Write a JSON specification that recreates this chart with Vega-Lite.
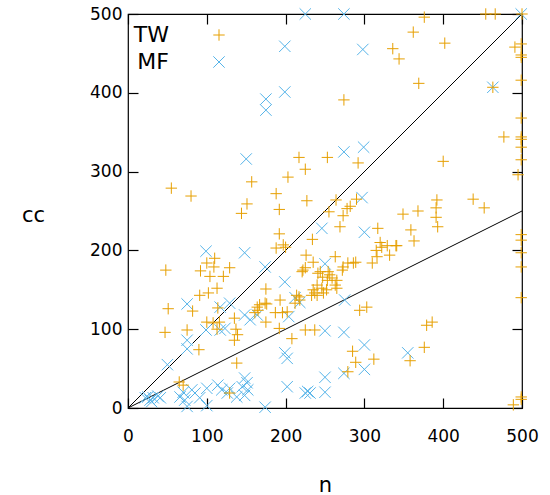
{
  "$schema": "https://vega.github.io/schema/vega-lite/v6.json",
  "width": 394,
  "height": 394,
  "autosize": {"type": "none"},
  "padding": {"left": 128, "top": 14, "right": 28, "bottom": 87},
  "config": {
    "view": {"stroke": "black", "strokeWidth": 1.2},
    "font": "DejaVu Sans",
    "axis": {
      "grid": false,
      "domain": false,
      "tickColor": "black",
      "tickSize": -10,
      "tickWidth": 1.2,
      "labelFontSize": 17,
      "labelColor": "black",
      "labelFlush": false,
      "labelOverlap": false,
      "titleFontSize": 21,
      "titleFontWeight": "normal",
      "titleColor": "black"
    }
  },
  "layer": [
    {
      "data": {"values": [
        {"n": 0, "cc": 0, "line": "a"}, {"n": 500, "cc": 500, "line": "a"},
        {"n": 0, "cc": 0, "line": "b"}, {"n": 500, "cc": 250, "line": "b"}
      ]},
      "mark": {"type": "line", "color": "black", "strokeWidth": 1},
      "encoding": {
        "x": {"field": "n", "type": "quantitative", "scale": {"domain": [0, 500], "nice": false},
              "axis": {"orient": "top", "labels": false, "title": null, "values": [0, 100, 200, 300, 400, 500]}},
        "y": {"field": "cc", "type": "quantitative", "scale": {"domain": [0, 500], "nice": false},
              "axis": {"orient": "right", "labels": false, "title": null, "values": [0, 100, 200, 300, 400, 500]}},
        "detail": {"field": "line"}
      }
    },
    {
      "data": {"values": [
        {"n":225,"cc":500,"s":"MF"},{"n":274,"cc":500,"s":"MF"},{"n":499,"cc":500,"s":"MF"},{"n":199,"cc":459,"s":"MF"},{"n":298,"cc":455,"s":"MF"},{"n":199,"cc":401,"s":"MF"},{"n":175,"cc":392,"s":"MF"},{"n":175,"cc":378,"s":"MF"},{"n":463,"cc":407,"s":"MF"},{"n":150,"cc":316,"s":"MF"},{"n":274,"cc":325,"s":"MF"},{"n":299,"cc":331,"s":"MF"},{"n":99,"cc":199,"s":"MF"},{"n":148,"cc":197,"s":"MF"},{"n":297,"cc":267,"s":"MF"},{"n":246,"cc":228,"s":"MF"},{"n":300,"cc":223,"s":"MF"},{"n":174,"cc":179,"s":"MF"},{"n":250,"cc":183,"s":"MF"},{"n":199,"cc":160,"s":"MF"},{"n":212,"cc":140,"s":"MF"},{"n":218,"cc":134,"s":"MF"},{"n":204,"cc":116,"s":"MF"},{"n":275,"cc":137,"s":"MF"},{"n":164,"cc":118,"s":"MF"},{"n":148,"cc":118,"s":"MF"},{"n":155,"cc":112,"s":"MF"},{"n":75,"cc":132,"s":"MF"},{"n":117,"cc":128,"s":"MF"},{"n":129,"cc":133,"s":"MF"},{"n":99,"cc":99,"s":"MF"},{"n":117,"cc":99,"s":"MF"},{"n":123,"cc":101,"s":"MF"},{"n":75,"cc":86,"s":"MF"},{"n":75,"cc":75,"s":"MF"},{"n":50,"cc":55,"s":"MF"},{"n":300,"cc":80,"s":"MF"},{"n":250,"cc":98,"s":"MF"},{"n":274,"cc":96,"s":"MF"},{"n":199,"cc":70,"s":"MF"},{"n":202,"cc":63,"s":"MF"},{"n":300,"cc":49,"s":"MF"},{"n":274,"cc":44,"s":"MF"},{"n":250,"cc":39,"s":"MF"},{"n":355,"cc":70,"s":"MF"},{"n":202,"cc":27,"s":"MF"},{"n":225,"cc":19,"s":"MF"},{"n":231,"cc":19,"s":"MF"},{"n":228,"cc":21,"s":"MF"},{"n":250,"cc":20,"s":"MF"},{"n":174,"cc":1,"s":"MF"},{"n":25,"cc":14,"s":"MF"},{"n":32,"cc":13,"s":"MF"},{"n":38,"cc":15,"s":"MF"},{"n":28,"cc":10,"s":"MF"},{"n":41,"cc":13,"s":"MF"},{"n":22,"cc":13,"s":"MF"},{"n":30,"cc":8,"s":"MF"},{"n":66,"cc":14,"s":"MF"},{"n":72,"cc":10,"s":"MF"},{"n":70,"cc":20,"s":"MF"},{"n":81,"cc":23,"s":"MF"},{"n":85,"cc":19,"s":"MF"},{"n":91,"cc":13,"s":"MF"},{"n":100,"cc":25,"s":"MF"},{"n":100,"cc":3,"s":"MF"},{"n":114,"cc":29,"s":"MF"},{"n":119,"cc":23,"s":"MF"},{"n":126,"cc":19,"s":"MF"},{"n":129,"cc":25,"s":"MF"},{"n":138,"cc":14,"s":"MF"},{"n":145,"cc":27,"s":"MF"},{"n":148,"cc":38,"s":"MF"},{"n":151,"cc":32,"s":"MF"},{"n":152,"cc":23,"s":"MF"},{"n":148,"cc":16,"s":"MF"},{"n":75,"cc":2,"s":"MF"},
        {"n":376,"cc":496,"s":"TW"},{"n":454,"cc":500,"s":"TW"},{"n":466,"cc":500,"s":"TW"},{"n":500,"cc":500,"s":"TW"},{"n":362,"cc":477,"s":"TW"},{"n":402,"cc":463,"s":"TW"},{"n":336,"cc":456,"s":"TW"},{"n":344,"cc":443,"s":"TW"},{"n":491,"cc":458,"s":"TW"},{"n":499,"cc":462,"s":"TW"},{"n":499,"cc":448,"s":"TW"},{"n":499,"cc":445,"s":"TW"},{"n":369,"cc":412,"s":"TW"},{"n":499,"cc":416,"s":"TW"},{"n":463,"cc":407,"s":"TW"},{"n":499,"cc":368,"s":"TW"},{"n":477,"cc":344,"s":"TW"},{"n":499,"cc":344,"s":"TW"},{"n":499,"cc":341,"s":"TW"},{"n":499,"cc":331,"s":"TW"},{"n":274,"cc":391,"s":"TW"},{"n":400,"cc":313,"s":"TW"},{"n":495,"cc":296,"s":"TW"},{"n":499,"cc":315,"s":"TW"},{"n":438,"cc":265,"s":"TW"},{"n":452,"cc":254,"s":"TW"},{"n":392,"cc":264,"s":"TW"},{"n":391,"cc":254,"s":"TW"},{"n":368,"cc":250,"s":"TW"},{"n":349,"cc":246,"s":"TW"},{"n":391,"cc":242,"s":"TW"},{"n":393,"cc":230,"s":"TW"},{"n":359,"cc":226,"s":"TW"},{"n":363,"cc":212,"s":"TW"},{"n":341,"cc":206,"s":"TW"},{"n":329,"cc":206,"s":"TW"},{"n":322,"cc":204,"s":"TW"},{"n":332,"cc":194,"s":"TW"},{"n":499,"cc":220,"s":"TW"},{"n":499,"cc":213,"s":"TW"},{"n":499,"cc":197,"s":"TW"},{"n":499,"cc":179,"s":"TW"},{"n":499,"cc":140,"s":"TW"},{"n":499,"cc":14,"s":"TW"},{"n":499,"cc":11,"s":"TW"},{"n":489,"cc":4,"s":"TW"},{"n":386,"cc":109,"s":"TW"},{"n":379,"cc":105,"s":"TW"},{"n":376,"cc":77,"s":"TW"},{"n":358,"cc":60,"s":"TW"},{"n":157,"cc":287,"s":"TW"},{"n":55,"cc":279,"s":"TW"},{"n":80,"cc":269,"s":"TW"},{"n":151,"cc":259,"s":"TW"},{"n":144,"cc":247,"s":"TW"},{"n":110,"cc":190,"s":"TW"},{"n":100,"cc":184,"s":"TW"},{"n":109,"cc":179,"s":"TW"},{"n":129,"cc":178,"s":"TW"},{"n":48,"cc":175,"s":"TW"},{"n":92,"cc":174,"s":"TW"},{"n":104,"cc":167,"s":"TW"},{"n":121,"cc":167,"s":"TW"},{"n":217,"cc":318,"s":"TW"},{"n":253,"cc":318,"s":"TW"},{"n":225,"cc":303,"s":"TW"},{"n":292,"cc":311,"s":"TW"},{"n":203,"cc":293,"s":"TW"},{"n":188,"cc":272,"s":"TW"},{"n":227,"cc":263,"s":"TW"},{"n":192,"cc":252,"s":"TW"},{"n":264,"cc":264,"s":"TW"},{"n":290,"cc":265,"s":"TW"},{"n":282,"cc":256,"s":"TW"},{"n":278,"cc":253,"s":"TW"},{"n":255,"cc":249,"s":"TW"},{"n":273,"cc":244,"s":"TW"},{"n":269,"cc":230,"s":"TW"},{"n":317,"cc":228,"s":"TW"},{"n":192,"cc":221,"s":"TW"},{"n":234,"cc":214,"s":"TW"},{"n":188,"cc":203,"s":"TW"},{"n":197,"cc":207,"s":"TW"},{"n":200,"cc":204,"s":"TW"},{"n":320,"cc":210,"s":"TW"},{"n":315,"cc":200,"s":"TW"},{"n":316,"cc":192,"s":"TW"},{"n":340,"cc":206,"s":"TW"},{"n":310,"cc":184,"s":"TW"},{"n":226,"cc":194,"s":"TW"},{"n":235,"cc":185,"s":"TW"},{"n":263,"cc":192,"s":"TW"},{"n":222,"cc":175,"s":"TW"},{"n":225,"cc":178,"s":"TW"},{"n":279,"cc":184,"s":"TW"},{"n":286,"cc":184,"s":"TW"},{"n":289,"cc":185,"s":"TW"},{"n":273,"cc":179,"s":"TW"},{"n":272,"cc":175,"s":"TW"},{"n":241,"cc":171,"s":"TW"},{"n":256,"cc":169,"s":"TW"},{"n":254,"cc":173,"s":"TW"},{"n":259,"cc":165,"s":"TW"},{"n":265,"cc":162,"s":"TW"},{"n":253,"cc":162,"s":"TW"},{"n":247,"cc":166,"s":"TW"},{"n":240,"cc":156,"s":"TW"},{"n":246,"cc":152,"s":"TW"},{"n":235,"cc":150,"s":"TW"},{"n":252,"cc":150,"s":"TW"},{"n":237,"cc":146,"s":"TW"},{"n":248,"cc":146,"s":"TW"},{"n":263,"cc":156,"s":"TW"},{"n":265,"cc":152,"s":"TW"},{"n":233,"cc":143,"s":"TW"},{"n":240,"cc":143,"s":"TW"},{"n":214,"cc":143,"s":"TW"},{"n":218,"cc":137,"s":"TW"},{"n":212,"cc":133,"s":"TW"},{"n":294,"cc":124,"s":"TW"},{"n":303,"cc":128,"s":"TW"},{"n":221,"cc":173,"s":"TW"},{"n":244,"cc":173,"s":"TW"},{"n":175,"cc":151,"s":"TW"},{"n":217,"cc":141,"s":"TW"},{"n":193,"cc":137,"s":"TW"},{"n":174,"cc":133,"s":"TW"},{"n":164,"cc":128,"s":"TW"},{"n":167,"cc":131,"s":"TW"},{"n":176,"cc":132,"s":"TW"},{"n":165,"cc":124,"s":"TW"},{"n":161,"cc":121,"s":"TW"},{"n":187,"cc":121,"s":"TW"},{"n":196,"cc":121,"s":"TW"},{"n":202,"cc":122,"s":"TW"},{"n":175,"cc":109,"s":"TW"},{"n":192,"cc":101,"s":"TW"},{"n":208,"cc":88,"s":"TW"},{"n":225,"cc":99,"s":"TW"},{"n":237,"cc":99,"s":"TW"},{"n":285,"cc":72,"s":"TW"},{"n":289,"cc":58,"s":"TW"},{"n":312,"cc":62,"s":"TW"},{"n":279,"cc":46,"s":"TW"},{"n":113,"cc":152,"s":"TW"},{"n":102,"cc":146,"s":"TW"},{"n":91,"cc":143,"s":"TW"},{"n":51,"cc":126,"s":"TW"},{"n":82,"cc":123,"s":"TW"},{"n":114,"cc":127,"s":"TW"},{"n":135,"cc":114,"s":"TW"},{"n":100,"cc":109,"s":"TW"},{"n":108,"cc":108,"s":"TW"},{"n":116,"cc":109,"s":"TW"},{"n":113,"cc":100,"s":"TW"},{"n":137,"cc":100,"s":"TW"},{"n":75,"cc":99,"s":"TW"},{"n":47,"cc":96,"s":"TW"},{"n":139,"cc":93,"s":"TW"},{"n":135,"cc":86,"s":"TW"},{"n":90,"cc":74,"s":"TW"},{"n":138,"cc":57,"s":"TW"},{"n":65,"cc":33,"s":"TW"},{"n":70,"cc":29,"s":"TW"},{"n":129,"cc":19,"s":"TW"}
      ]},
      "mark": {"type": "point", "filled": false, "strokeWidth": 1, "size": 130, "opacity": 1},
      "encoding": {
        "x": {"field": "n", "type": "quantitative", "scale": {"domain": [0, 500], "nice": false},
              "axis": {"title": "n", "values": [0, 100, 200, 300, 400, 500], "labelPadding": 30, "titlePadding": 30}},
        "y": {"field": "cc", "type": "quantitative", "scale": {"domain": [0, 500], "nice": false},
              "axis": {"title": "cc", "values": [0, 100, 200, 300, 400, 500], "labelPadding": 16, "titleAngle": 0, "titleAlign": "center", "titleBaseline": "middle", "titleX": -95, "titleY": 201}},
        "color": {"field": "s", "type": "nominal",
                  "scale": {"domain": ["TW", "MF"], "range": ["#E69F00", "#56B4E9"]},
                  "legend": {"orient": "none", "legendX": 80, "legendY": 10, "title": null, "padding": 0,
                             "labelAlign": "right", "labelOffset": -61, "labelFontSize": 22, "labelColor": "black",
                             "symbolSize": 130, "symbolStrokeWidth": 1, "rowPadding": 5}},
        "shape": {"field": "s", "type": "nominal",
                  "scale": {"domain": ["TW", "MF"], "range": ["M-1,0L1,0M0,-1L0,1", "M-1,-1L1,1M-1,1L1,-1"]},
                  "legend": {"orient": "none", "legendX": 80, "legendY": 10, "title": null, "padding": 0,
                             "labelAlign": "right", "labelOffset": -61, "labelFontSize": 22, "labelColor": "black",
                             "symbolSize": 130, "symbolStrokeWidth": 1, "rowPadding": 5}}
      }
    }
  ],
  "resolve": {"axis": {"x": "independent", "y": "independent"}}
}
